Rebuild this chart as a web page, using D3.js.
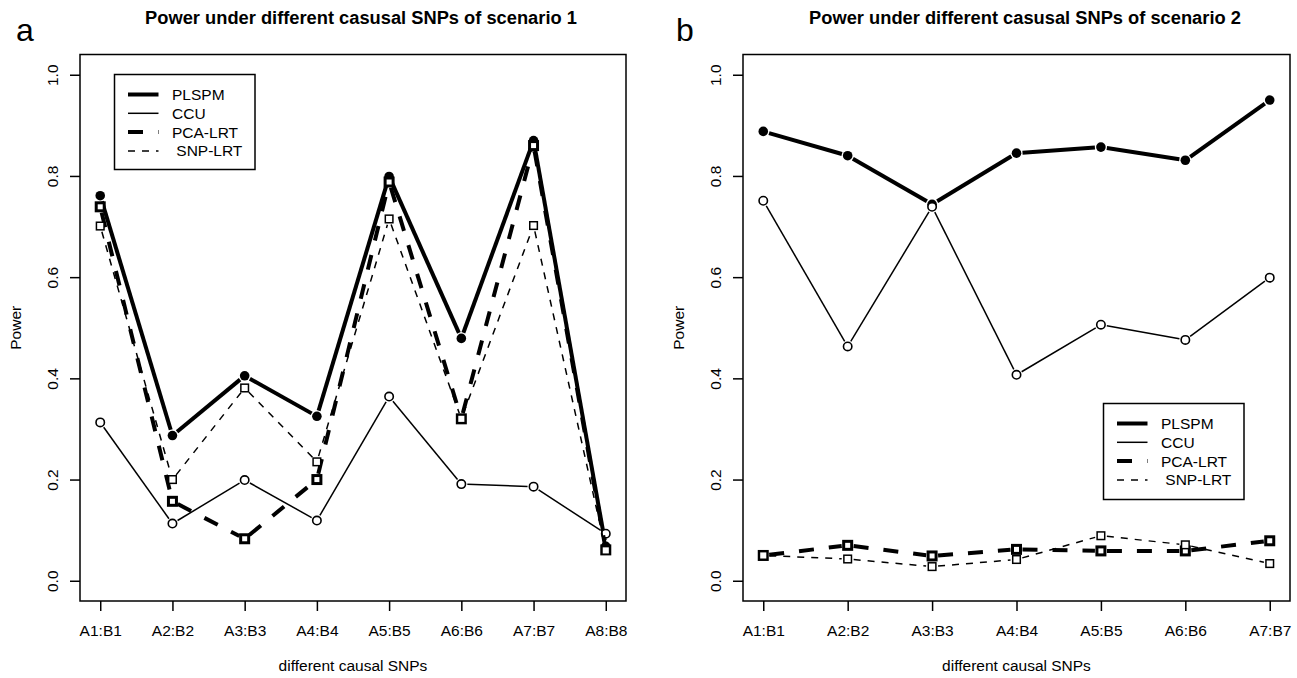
<!DOCTYPE html>
<html>
<head>
<meta charset="utf-8">
<script src="https://cdn.jsdelivr.net/npm/d3@7"></script>
<style>
  html, body { margin: 0; padding: 0; background: #fff; }
  svg { display: block; font-family: "Liberation Sans", Arial, Helvetica, sans-serif; }
</style>
</head>
<body>
<svg id="chart" width="1297" height="678"></svg>
<script>
// ---------------- data ----------------
const categoriesA = ["A1:B1", "A2:B2", "A3:B3", "A4:B4", "A5:B5", "A6:B6", "A7:B7", "A8:B8"];
const plspmA  = [0.761, 0.287, 0.405, 0.325, 0.799, 0.479, 0.870, 0.068];
const ccuA    = [0.313, 0.113, 0.199, 0.119, 0.364, 0.191, 0.186, 0.093];
const pcaLrtA = [0.739, 0.157, 0.083, 0.200, 0.788, 0.320, 0.860, 0.061];
const snpLrtA = [0.701, 0.200, 0.381, 0.235, 0.715, 0.320, 0.702, 0.060];

const categoriesB = ["A1:B1", "A2:B2", "A3:B3", "A4:B4", "A5:B5", "A6:B6", "A7:B7"];
const plspmB  = [0.888, 0.840, 0.744, 0.845, 0.857, 0.831, 0.950];
const ccuB    = [0.751, 0.463, 0.739, 0.407, 0.506, 0.476, 0.599];
const pcaLrtB = [0.050, 0.070, 0.049, 0.062, 0.059, 0.059, 0.079];
const snpLrtB = [0.050, 0.043, 0.028, 0.042, 0.089, 0.071, 0.034];

const yTicks = [0, 0.2, 0.4, 0.6, 0.8, 1.0];
const seriesNames = ["PLSPM", "CCU", "PCA-LRT", " SNP-LRT"];
const titles = ["Power under different casusal SNPs of scenario 1", "Power under different casusal SNPs of scenario 2"];
const panelLetters = ["a", "b"];
const xTitle = "different causal SNPs";
const yTitle = "Power";

// ---------------- styles ----------------
const styles = [
  { w: 4,   dash: null,    marker: "dot" },     // PLSPM
  { w: 1.5, dash: null,    marker: "circle" },  // CCU
  { w: 4,   dash: "15,15", marker: "square3" }, // PCA-LRT
  { w: 1.5, dash: "7,7",   marker: "square" }   // SNP-LRT
];

const svg = d3.select("#chart");
const FONT = 15.5;

const panels = [
  { cats: categoriesA, series: [plspmA, ccuA, pcaLrtA, snpLrtA], box: { l: 80, r: 626, t: 54.5, b: 601 },
    legend: { x: 114.5, y: 74.5, w: 140.5, h: 95 }, titleX: 361, letterX: 16 },
  { cats: categoriesB, series: [plspmB, ccuB, pcaLrtB, snpLrtB], box: { l: 743, r: 1290, t: 54.5, b: 601 },
    legend: { x: 1103.5, y: 403.5, w: 140.5, h: 96 }, titleX: 1025, letterX: 676 }
];

panels.forEach((p, pi) => {
  const n = p.cats.length;
  const pad = (n - 1) * 0.04;
  const x = d3.scaleLinear().domain([1 - pad, n + pad]).range([p.box.l, p.box.r]);
  const y = d3.scaleLinear().domain([-0.04, 1.04]).range([p.box.b, p.box.t]);
  const g = svg.append("g");

  // title & letter
  g.append("text").attr("x", p.titleX).attr("y", 24).attr("text-anchor", "middle")
    .attr("font-weight", "bold").attr("font-size", 18.3).text(titles[pi]);
  g.append("text").attr("x", p.letterX).attr("y", 41).attr("font-size", 32).text(panelLetters[pi]);

  // axes
  const xAxis = d3.axisBottom(x).tickValues(d3.range(1, n + 1)).tickSize(10).tickPadding(14)
    .tickFormat(d => p.cats[d - 1]);
  const xa = g.append("g").attr("transform", `translate(0,${p.box.b})`).call(xAxis);
  xa.select(".domain").remove();
  xa.selectAll("line").attr("stroke", "#000").attr("stroke-width", 1.5);
  xa.selectAll("text").attr("font-size", FONT).attr("fill", "#000")
    .attr("font-family", '"Liberation Sans", Arial, sans-serif');

  const yAxis = d3.axisLeft(y).tickValues(yTicks).tickSize(10).tickFormat(d3.format(".1f"));
  const ya = g.append("g").attr("transform", `translate(${p.box.l},0)`).call(yAxis);
  ya.select(".domain").remove();
  ya.selectAll("line").attr("stroke", "#000").attr("stroke-width", 1.5);
  ya.selectAll("text").attr("font-size", FONT).attr("fill", "#000")
    .attr("font-family", '"Liberation Sans", Arial, sans-serif')
    .attr("x", null).attr("dy", null)
    .attr("text-anchor", "middle").attr("dominant-baseline", "central")
    .attr("transform", "translate(-28,0) rotate(-90)");

  // axis titles
  g.append("text").attr("x", (p.box.l + p.box.r) / 2).attr("y", 671).attr("text-anchor", "middle")
    .attr("font-size", FONT).text(xTitle);
  g.append("text").attr("transform", `translate(${p.box.l - 65},${(p.box.t + p.box.b) / 2}) rotate(-90)`)
    .attr("text-anchor", "middle").attr("dominant-baseline", "central")
    .attr("font-size", FONT).text(yTitle);

  // box
  g.append("rect").attr("x", p.box.l).attr("y", p.box.t).attr("width", p.box.r - p.box.l)
    .attr("height", p.box.b - p.box.t).attr("fill", "none").attr("stroke", "#000").attr("stroke-width", 1.5);

  // series (type = "b": lines with gaps around points)
  const GAP = 6;
  p.series.forEach((vals, si) => {
    const st = styles[si];
    const pts = vals.map((v, i) => [x(i + 1), y(v)]);
    const segs = [];
    for (let i = 0; i < pts.length - 1; i++) {
      const [x0, y0] = pts[i], [x1, y1] = pts[i + 1];
      const len = Math.hypot(x1 - x0, y1 - y0);
      if (len <= 2 * GAP) continue;
      const ux = (x1 - x0) / len, uy = (y1 - y0) / len;
      segs.push([[x0 + ux * GAP, y0 + uy * GAP], [x1 - ux * GAP, y1 - uy * GAP]]);
    }
    const sg = g.append("g");
    sg.selectAll("path.seg").data(segs).join("path")
      .attr("d", d => d3.line()(d))
      .attr("fill", "none").attr("stroke", "#000").attr("stroke-width", st.w)
      .attr("stroke-dasharray", st.dash).attr("stroke-linecap", "butt");
    drawMarkers(sg, pts, st.marker);
  });

  // legend
  const L = p.legend;
  const lg = g.append("g");
  lg.append("rect").attr("x", L.x).attr("y", L.y).attr("width", L.w).attr("height", L.h)
    .attr("fill", "#fff").attr("stroke", "#000").attr("stroke-width", 1.5);
  seriesNames.forEach((name, si) => {
    const st = styles[si];
    const ry = L.y + 20 + si * 18.8;
    lg.append("line").attr("x1", L.x + 13.5).attr("x2", L.x + 44).attr("y1", ry).attr("y2", ry)
      .attr("stroke", "#000").attr("stroke-width", st.w).attr("stroke-dasharray", st.dash);
    lg.append("text").attr("x", L.x + 57.5).attr("y", ry).attr("dominant-baseline", "central")
      .attr("font-size", FONT).attr("xml:space", "preserve").style("white-space", "pre").text(name);
  });
});

function drawMarkers(sel, pts, type) {
  if (type === "dot") {
    sel.selectAll("circle.m").data(pts).join("circle").attr("cx", d => d[0]).attr("cy", d => d[1])
      .attr("r", 4.8).attr("fill", "#000");
  } else if (type === "circle") {
    sel.selectAll("circle.m").data(pts).join("circle").attr("cx", d => d[0]).attr("cy", d => d[1])
      .attr("r", 4.2).attr("fill", "#fff").attr("stroke", "#000").attr("stroke-width", 1.6);
  } else if (type === "square3") {
    sel.selectAll("rect.m").data(pts).join("rect").attr("x", d => d[0] - 4).attr("y", d => d[1] - 4)
      .attr("width", 8).attr("height", 8).attr("fill", "#fff").attr("stroke", "#000").attr("stroke-width", 3);
  } else {
    sel.selectAll("rect.m").data(pts).join("rect").attr("x", d => d[0] - 3.8).attr("y", d => d[1] - 3.8)
      .attr("width", 7.6).attr("height", 7.6).attr("fill", "#fff").attr("stroke", "#000").attr("stroke-width", 1.5);
  }
}
</script>
</body>
</html>
